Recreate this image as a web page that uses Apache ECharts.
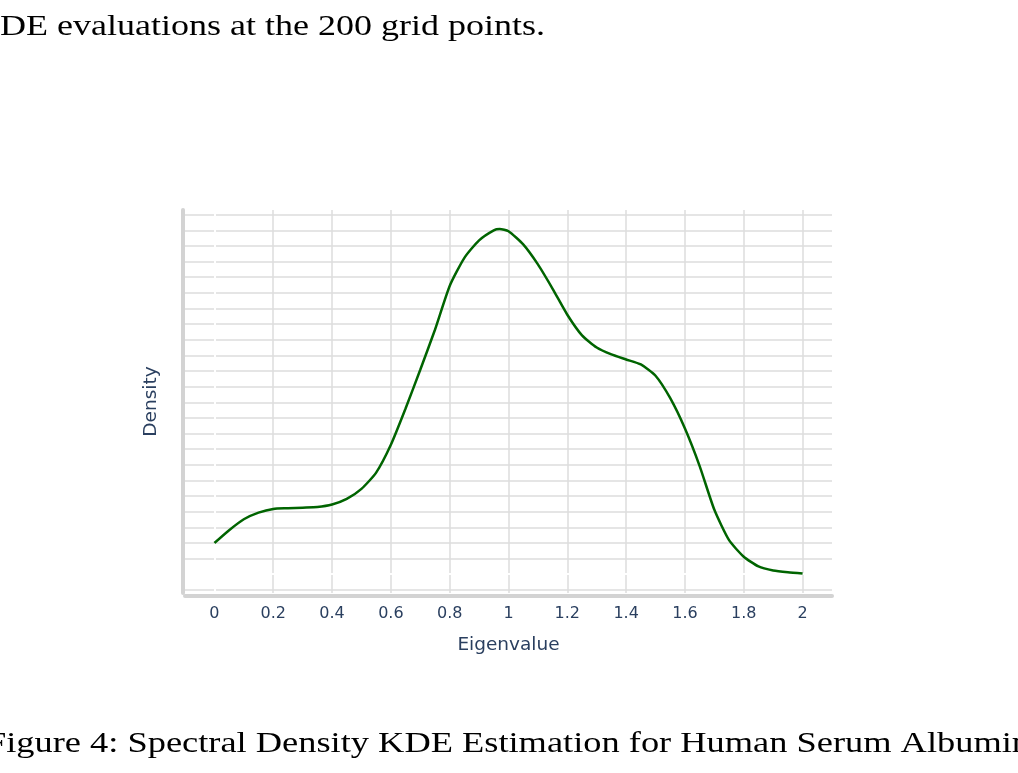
<!DOCTYPE html>
<html><head><meta charset="utf-8">
<script src="https://cdn.jsdelivr.net/npm/echarts@6/dist/echarts.min.js"></script>
<style>html,body{margin:0;padding:0;background:#fff;overflow:hidden}#c{width:1018px;height:773px}</style>
</head><body><div id="c"></div>
<script>
const eigenvalues = [0,0.05,0.1,0.15,0.2,0.25,0.3,0.35,0.4,0.45,0.5,0.55,0.6,0.65,0.7,0.75,0.8,0.85,0.9,0.95,0.97,1.0,1.05,1.1,1.15,1.2,1.25,1.3,1.35,1.4,1.45,1.5,1.55,1.6,1.65,1.7,1.75,1.8,1.85,1.9,1.95,2.0];
const density = [0.100,0.141,0.176,0.197,0.209,0.211,0.213,0.215,0.223,0.241,0.273,0.325,0.414,0.530,0.654,0.782,0.922,1.012,1.068,1.100,1.104,1.097,1.055,0.991,0.913,0.830,0.764,0.725,0.703,0.687,0.671,0.635,0.563,0.466,0.346,0.206,0.109,0.056,0.025,0.012,0.006,0.002];
const xTickLabels = ['0','0.2','0.4','0.6','0.8','1','1.2','1.4','1.6','1.8','2'];
const xGridLines = [0.2,0.4,0.6,0.8,1.0,1.2,1.4,1.6,1.8,2.0];
const yGridLines = [-0.05,0.05,0.1,0.15,0.2,0.25,0.3,0.35,0.4,0.45,0.5,0.55,0.6,0.65,0.7,0.75,0.8,0.85,0.9,0.95,1.0,1.05,1.1,1.15];
const zeroLines = [0];
const xAxisTitle = 'Eigenvalue';
const yAxisTitle = 'Density';
const topText = 'DE evaluations at the 200 grid points.';
const captionText = 'Figure 4: Spectral Density KDE Estimation for Human Serum Albumin';

const serifFont = '29.5px "Liberation Serif"';
function measure(txt){
  const ctx = document.createElement('canvas').getContext('2d');
  ctx.font = serifFont;
  return ctx.measureText(txt).width;
}
const topScale = 545 / measure(topText);
const capScale = 1044 / measure(captionText);

const gridColor = '#dcdcdc';
const markData = [];
xGridLines.forEach(v => markData.push({xAxis: v, lineStyle: {color: gridColor, width: 1.5, type: 'solid'}}));
yGridLines.forEach(v => markData.push({yAxis: v, lineStyle: {color: gridColor, width: 1.5, type: 'solid'}}));
zeroLines.forEach(v => markData.push({xAxis: v, lineStyle: {color: '#ffffff', width: 2, type: 'solid'}}));
zeroLines.forEach(v => markData.push({yAxis: v, lineStyle: {color: '#ffffff', width: 2, type: 'solid'}}));

const chart = echarts.init(document.getElementById('c'), null, {renderer: 'canvas'});
chart.setOption({
  animation: false,
  backgroundColor: '#ffffff',
  grid: {left: 185, right: 186, top: 210, bottom: 180, containLabel: false},
  xAxis: {
    type: 'value', min: -0.1, max: 2.1, interval: 0.1, offset: 3,
    axisLine: {show: true, onZero: false, lineStyle: {color: '#d3d3d3', width: 4}},
    axisTick: {show: false},
    splitLine: {show: false},
    axisLabel: {
      margin: 10, color: '#2a3f5f', fontFamily: '"DejaVu Sans", Verdana, sans-serif', fontSize: 16,
      formatter: function (v) { const k = Math.round(v * 10); if (k < 0 || k % 2) return ''; return xTickLabels[k / 2] || ''; }
    },
    name: xAxisTitle, nameLocation: 'middle', nameGap: 40,
    nameTextStyle: {color: '#2a3f5f', fontFamily: '"DejaVu Sans", Verdana, sans-serif', fontSize: 18.5}
  },
  yAxis: {
    type: 'value', min: -0.06, max: 1.165, offset: 2,
    axisLine: {show: true, onZero: false, lineStyle: {color: '#d3d3d3', width: 4}},
    axisTick: {show: false},
    splitLine: {show: false},
    axisLabel: {show: false},
    name: yAxisTitle, nameLocation: 'middle', nameGap: 22,
    nameTextStyle: {color: '#2a3f5f', fontFamily: '"DejaVu Sans", Verdana, sans-serif', fontSize: 18.5}
  },
  series: [
    {
      type: 'line', data: [], z: 1, silent: true,
      markLine: {silent: true, symbol: 'none', animation: false, label: {show: false}, data: markData}
    },
    {
      type: 'line', z: 5, showSymbol: false, smooth: 0.2,
      data: eigenvalues.map((x, i) => [x, density[i]]),
      lineStyle: {color: '#006400', width: 2.5}
    }
  ],
  graphic: [
    {type: 'text', x: 0, y: 27, scaleX: topScale, style: {text: topText, font: serifFont, fill: '#000', verticalAlign: 'middle', align: 'left'}},
    {type: 'text', x: -14, y: 744, scaleX: capScale, style: {text: captionText, font: serifFont, fill: '#000', verticalAlign: 'middle', align: 'left'}}
  ]
});
</script></body></html>
